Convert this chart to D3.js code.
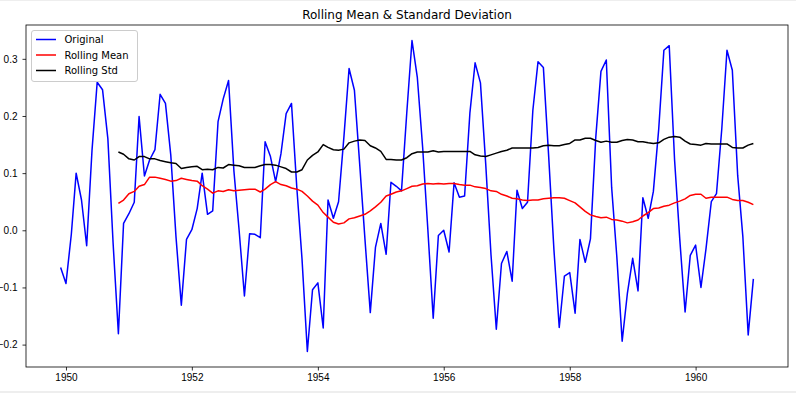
<!DOCTYPE html>
<html>
<head>
<meta charset="utf-8">
<script src="https://d3js.org/d3.v7.min.js"></script>
<style>
	body { margin: 0; background: #fff; }
	svg { display: block; font-family: "DejaVu Sans", sans-serif; }
	.axis text { font-size: 10px; fill: #000; }
	.axis path, .axis line { stroke: #000; stroke-width: 0.8; }
	.title { font-size: 12px; fill: #000; }
	.legendText { font-size: 10px; fill: #000; }
</style>
</head>
<body>
<div id="chart"></div>
<script>
//--------------------------------- Data (Dec 1949 - Dec 1960, monthly) ---------------------------------
var startMonth = new Date(1949, 11, 1);
var endMonth = new Date(1960, 11, 1);

var original = [
	-0.065, -0.093, -0.007, 0.100, 0.053, -0.027, 0.140, 0.259, 0.246, 0.160, -0.021, -0.181,
	0.012, 0.029, 0.049, 0.199, 0.095, 0.123, 0.141, 0.238, 0.222, 0.131, -0.011, -0.131,
	-0.016, 0.001, 0.038, 0.100, 0.028, 0.034, 0.190, 0.230, 0.262, 0.104, 0.001, -0.115,
	-0.006, -0.007, -0.013, 0.155, 0.129, 0.085, 0.134, 0.204, 0.222, 0.074, -0.050, -0.212,
	-0.104, -0.092, -0.171, 0.053, 0.021, 0.050, 0.163, 0.283, 0.245, 0.114, -0.015, -0.144,
	-0.030, 0.012, -0.042, 0.084, 0.077, 0.069, 0.207, 0.332, 0.267, 0.144, 0.001, -0.154,
	-0.009, 0.000, -0.038, 0.083, 0.058, 0.060, 0.206, 0.293, 0.258, 0.114, -0.042, -0.173,
	-0.058, -0.037, -0.089, 0.070, 0.038, 0.049, 0.210, 0.295, 0.285, 0.128, -0.033, -0.170,
	-0.080, -0.074, -0.145, -0.016, -0.056, -0.015, 0.163, 0.278, 0.298, 0.075, -0.046, -0.194,
	-0.111, -0.049, -0.106, 0.057, 0.021, 0.068, 0.177, 0.315, 0.323, 0.123, -0.015, -0.143,
	-0.044, -0.026, -0.100, -0.033, 0.050, 0.064, 0.178, 0.315, 0.280, 0.096, -0.011, -0.183,
	-0.085
];

// rolling values start at the 12th month (Nov 1950)
var rollOffset = 11;
var rollingMean = [
	0.047,
	0.053, 0.064, 0.068, 0.077, 0.080, 0.093, 0.093, 0.091, 0.089, 0.086, 0.087, 0.091,
	0.089, 0.087, 0.086, 0.078, 0.072, 0.065, 0.069, 0.068, 0.071, 0.069, 0.070, 0.071,
	0.072, 0.072, 0.067, 0.072, 0.080, 0.085, 0.080, 0.078, 0.074, 0.072, 0.068, 0.060,
	0.051, 0.044, 0.031, 0.023, 0.014, 0.011, 0.013, 0.020, 0.022, 0.025, 0.028, 0.034,
	0.041, 0.049, 0.060, 0.063, 0.067, 0.069, 0.073, 0.077, 0.078, 0.081, 0.082, 0.081,
	0.082, 0.081, 0.082, 0.082, 0.080, 0.079, 0.079, 0.076, 0.075, 0.073, 0.069, 0.068,
	0.063, 0.060, 0.056, 0.055, 0.053, 0.052, 0.053, 0.053, 0.055, 0.056, 0.057, 0.057,
	0.056, 0.052, 0.048, 0.041, 0.033, 0.027, 0.024, 0.022, 0.023, 0.019, 0.018, 0.016,
	0.013, 0.015, 0.018, 0.025, 0.031, 0.038, 0.039, 0.042, 0.044, 0.048, 0.051, 0.055,
	0.061, 0.063, 0.063, 0.056, 0.058, 0.058, 0.058, 0.058, 0.054, 0.052, 0.052, 0.049,
	0.045
];
var rollingStd = [
	0.137,
	0.133, 0.125, 0.123, 0.129, 0.129, 0.125, 0.125, 0.122, 0.120, 0.118, 0.117, 0.108,
	0.110, 0.111, 0.112, 0.106, 0.107, 0.106, 0.110, 0.109, 0.115, 0.114, 0.113, 0.110,
	0.110, 0.110, 0.113, 0.115, 0.115, 0.114, 0.111, 0.108, 0.102, 0.102, 0.106, 0.123,
	0.131, 0.137, 0.150, 0.145, 0.141, 0.140, 0.142, 0.153, 0.156, 0.158, 0.157, 0.148,
	0.144, 0.138, 0.124, 0.124, 0.123, 0.123, 0.127, 0.134, 0.137, 0.137, 0.137, 0.139,
	0.137, 0.138, 0.138, 0.138, 0.138, 0.138, 0.138, 0.132, 0.130, 0.129, 0.132, 0.135,
	0.138, 0.140, 0.144, 0.144, 0.144, 0.144, 0.144, 0.145, 0.148, 0.149, 0.148, 0.148,
	0.150, 0.152, 0.158, 0.158, 0.161, 0.161, 0.157, 0.154, 0.156, 0.154, 0.154, 0.157,
	0.159, 0.158, 0.155, 0.155, 0.153, 0.152, 0.153, 0.159, 0.163, 0.164, 0.163, 0.156,
	0.151, 0.150, 0.149, 0.152, 0.151, 0.151, 0.151, 0.151, 0.145, 0.144, 0.144, 0.149,
	0.152
];

var xTickYears = [1950, 1952, 1954, 1956, 1958, 1960];
var yTicks = [-0.2, -0.1, 0.0, 0.1, 0.2, 0.3];

var series = [
	{name: "Original", color: "#0000ff", values: original, offset: 0},
	{name: "Rolling Mean", color: "#ff0000", values: rollingMean, offset: rollOffset},
	{name: "Rolling Std", color: "#000000", values: rollingStd, offset: rollOffset}
];

//--------------------------------- Set up svg ---------------------------------
var width = 796, height = 393;
var margin = {top: 25, right: 8, bottom: 26, left: 26};
var plotW = width - margin.left - margin.right;
var plotH = height - margin.top - margin.bottom;

var svg = d3.select("#chart")
	.append("svg")
	.attr("width", width)
	.attr("height", height);

// faint notebook borders
svg.append("rect").attr("x", 0).attr("y", 0).attr("width", width).attr("height", 1).style("fill", "#eeeeee");
svg.append("rect").attr("x", 0).attr("y", height - 2).attr("width", width).attr("height", 2).style("fill", "#eeeeee");

var g = svg.append("g")
	.attr("transform", "translate(" + margin.left + "," + margin.top + ")");

var months = d3.timeMonth.range(startMonth, d3.timeMonth.offset(endMonth, 1));

//--------------------------------- Scales (matplotlib style 5% margins) ---------------------------------
var tSpan = endMonth - startMonth;
var x = d3.scaleTime()
	.domain([new Date(+startMonth - tSpan * 0.05), new Date(+endMonth + tSpan * 0.05)])
	.range([0, plotW]);

var allVals = original.concat(rollingMean, rollingStd);
var yMin = d3.min(allVals), yMax = d3.max(allVals);
var yPad = (yMax - yMin) * 0.05;
var y = d3.scaleLinear()
	.domain([yMin - yPad, yMax + yPad])
	.range([plotH, 0]);

//--------------------------------- Lines ---------------------------------
var line = d3.line()
	.x(function(d) { return x(d.date); })
	.y(function(d) { return y(d.value); });

series.forEach(function(s) {
	var pts = s.values.map(function(v, i) { return {date: months[i + s.offset], value: v}; });
	g.append("path")
		.datum(pts)
		.attr("d", line)
		.style("fill", "none")
		.style("stroke", s.color)
		.style("stroke-width", 1.5)
		.style("stroke-linejoin", "round");
});

//--------------------------------- Axes ---------------------------------
var xAxis = d3.axisBottom(x)
	.tickValues(xTickYears.map(function(yr) { return new Date(yr, 0, 1); }))
	.tickFormat(d3.timeFormat("%Y"))
	.tickSize(3.5)
	.tickPadding(3.5);

var yAxis = d3.axisLeft(y)
	.tickValues(yTicks)
	.tickFormat(function(d) { return d3.format(".1f")(d).replace("-", "\u2212"); })
	.tickSize(3.5)
	.tickPadding(5);

g.append("g")
	.attr("class", "axis")
	.attr("transform", "translate(0," + plotH + ")")
	.call(xAxis)
	.select(".domain").remove();

g.append("g")
	.attr("class", "axis")
	.call(yAxis)
	.select(".domain").remove();

// frame
g.append("rect")
	.attr("x", 0).attr("y", 0)
	.attr("width", plotW).attr("height", plotH)
	.style("fill", "none")
	.style("stroke", "#000")
	.style("stroke-width", 0.8);

//--------------------------------- Title ---------------------------------
svg.append("text")
	.attr("class", "title")
	.attr("x", margin.left + plotW / 2)
	.attr("y", margin.top - 6)
	.style("text-anchor", "middle")
	.text("Rolling Mean & Standard Deviation");

//--------------------------------- Legend ---------------------------------
var legend = g.append("g")
	.attr("transform", "translate(5.5,5.5)");

legend.append("rect")
	.attr("width", 106)
	.attr("height", 51)
	.attr("rx", 2.5)
	.style("fill", "#fff")
	.style("fill-opacity", 0.8)
	.style("stroke", "#cccccc")
	.style("stroke-width", 1);

var entries = legend.selectAll(".entry")
	.data(series)
	.enter().append("g")
	.attr("class", "entry")
	.attr("transform", function(d, i) { return "translate(0," + (9 + i * 15.5) + ")"; });

entries.append("line")
	.attr("x1", 4.5).attr("x2", 24.5)
	.style("stroke", function(d) { return d.color; })
	.style("stroke-width", 1.5);

entries.append("text")
	.attr("class", "legendText")
	.attr("x", 33)
	.attr("dy", "0.35em")
	.text(function(d) { return d.name; });
</script>
</body>
</html>
